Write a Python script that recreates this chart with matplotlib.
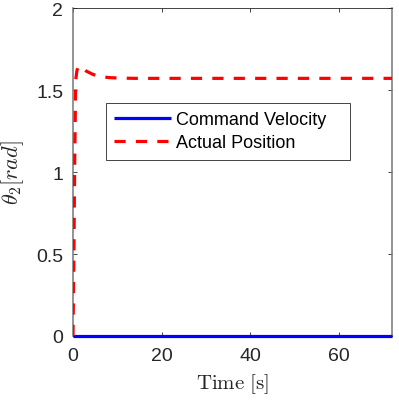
import matplotlib
matplotlib.use("Agg")
import matplotlib.pyplot as plt

plt.rcParams['mathtext.fontset'] = 'cm'
plt.rcParams['font.family'] = ['Liberation Sans', 'DejaVu Sans']

# time [s] and joint angle values
time_cmd = [0, 72]
theta_cmd = [0, 0]

time_act = [0, 0.2, 0.4, 0.6, 0.9, 1.3, 2.0, 3.0, 4.5, 6.0, 8.0, 10.0, 14.0, 72.0]
theta_act = [0, 0.5, 1.1, 1.56, 1.62, 1.645, 1.64, 1.615, 1.595, 1.583, 1.576, 1.573, 1.571, 1.571]

xticks = [0, 20, 40, 60]
yticks = [0, 0.5, 1, 1.5, 2]
ytick_labels = ['0', '0.5', '1', '1.5', '2']

fig = plt.figure(figsize=(3.99, 4.02), dpi=100)
ax = fig.add_axes([73 / 399, 1 - 337 / 402, (392 - 73) / 399, (337 - 9) / 402])

ax.plot(time_cmd, theta_cmd, color='#0000ff', lw=2.3, clip_on=False,
        solid_capstyle='butt', label='Command Velocity', zorder=3)
ax.plot(time_act, theta_act, color='#ff0000', lw=2.3, dashes=(3.5, 3.2),
        label='Actual Position', zorder=3)

ax.set_xlim(0, 72)
ax.set_ylim(0, 2)
ax.set_xticks(xticks)
ax.set_yticks(yticks)
ax.set_yticklabels(ytick_labels)

ax.tick_params(direction='in', top=True, right=True, length=3, width=0.6,
               labelsize=14, labelcolor='#262626', color='#262626')
ax.tick_params(axis='y', pad=7)
ax.tick_params(axis='x', pad=8)
for s in ax.spines.values():
    s.set_color('#262626')
    s.set_linewidth(0.6)
for side in ('left', 'right'):
    ax.spines[side].set_color('#777777')
    ax.spines[side].set_linewidth(1.1)

ax.set_xlabel(r'$\mathrm{Time\ [s]}$', fontsize=15, color='#262626', labelpad=5)
ax.set_ylabel(r'$\theta_2[rad]$', fontsize=16, color='#262626', labelpad=7)

leg = ax.legend(loc='upper left',
                bbox_to_anchor=((106 - 73) / 319, (337 - 104) / 328, (350 - 106) / 319, 0.0),
                mode='expand', fontsize=13, frameon=True, fancybox=False, framealpha=1,
                edgecolor='#262626', handlelength=3.15, borderpad=0.45,
                labelspacing=0.35, handletextpad=0.3, borderaxespad=0)
leg.get_frame().set_linewidth(0.6)

fig.savefig('out.png', dpi=100)
